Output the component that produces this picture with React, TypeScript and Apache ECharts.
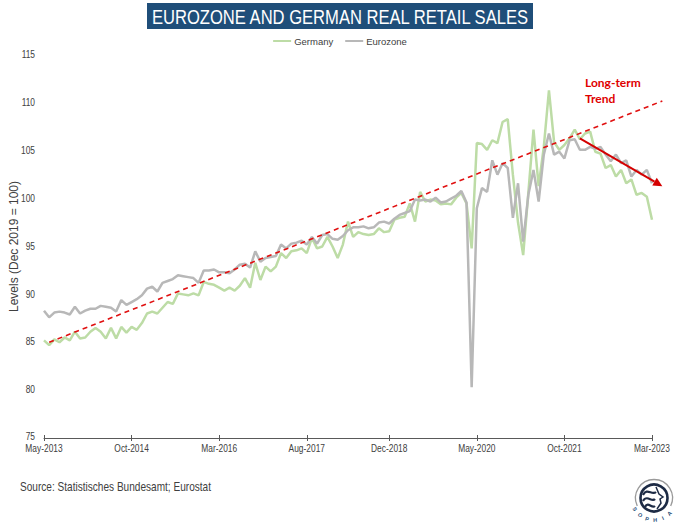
import React, { useEffect, useRef } from 'react';
import * as echarts from 'echarts';

// ---- data ----
const MONTHS = ['Jan', 'Feb', 'Mar', 'Apr', 'May', 'Jun', 'Jul', 'Aug', 'Sep', 'Oct', 'Nov', 'Dec'];
const START_YEAR = 2013;
const START_MONTH = 4; // May
const N_MONTHS = 119; // May-2013 .. Mar-2023

const CATEGORIES: string[] = Array.from({ length: N_MONTHS }, (_, i) => {
  const m = START_MONTH + i;
  return `${MONTHS[m % 12]}-${START_YEAR + Math.floor(m / 12)}`;
});

const TICK_LABELS = ['May-2013', 'Oct-2014', 'Mar-2016', 'Aug-2017', 'Dec-2018', 'May-2020', 'Oct-2021', 'Mar-2023'];
const Y_TICKS = [75, 80, 85, 90, 95, 100, 105, 110, 115];

const GERMANY = [
  85.2, 84.7, 85.3, 85.0, 85.5, 85.2, 86.1, 85.4, 85.5, 86.1,
  86.5, 86.1, 85.4, 86.5, 85.4, 86.6, 86.0, 86.6, 86.3, 87.0,
  88.0, 88.2, 88.0, 88.6, 89.2, 89.0, 90.1, 90.0, 89.9, 90.1,
  89.9, 91.3, 91.1, 91.0, 90.7, 90.4, 90.7, 90.4, 90.9, 91.7,
  90.7, 93.3, 91.5, 92.9, 92.4, 92.9, 94.3, 93.8, 94.5, 94.6,
  94.8, 94.3, 95.9, 94.8, 95.0, 96.0, 95.0, 93.8, 95.2, 97.6,
  96.0, 96.5, 96.3, 96.2, 96.3, 96.9, 96.5, 96.6, 97.8, 98.0,
  98.1, 99.5, 97.6, 100.7, 99.7, 99.9, 99.8, 99.4, 99.5, 99.4,
  100.1, 100.6, 99.5, 94.8, 105.8, 105.7, 105.1, 106.1, 105.8, 108.0,
  108.3, 102.5, 97.5, 94.1, 100.6, 107.2, 101.3, 105.4, 111.3, 105.9,
  105.1, 105.6, 106.3, 107.2, 106.2, 106.8, 107.0, 104.9, 104.7, 103.2,
  103.5, 102.3, 103.0, 101.6, 102.0, 100.4, 100.6, 100.2, 97.8,
];

const EUROZONE = [
  88.3, 87.6, 88.1, 88.2, 88.1, 87.9, 88.7, 88.0, 88.3, 88.5,
  88.5, 88.8, 88.7, 88.6, 88.2, 89.4, 88.9, 89.2, 89.5, 89.9,
  90.6, 90.8, 90.3, 91.2, 91.4, 91.6, 92.0, 91.9, 91.8, 91.7,
  91.2, 92.5, 92.5, 92.6, 92.3, 92.3, 92.2, 92.6, 93.1, 93.2,
  92.8, 94.5, 93.4, 93.8, 93.9, 94.0, 95.2, 94.8, 95.3, 95.4,
  95.6, 95.2, 96.0, 95.3, 96.2, 96.3, 95.8, 95.7, 96.1, 96.7,
  97.0, 97.0, 97.1, 96.9, 97.0, 97.5, 97.6, 97.4, 97.9, 98.3,
  98.5, 98.7, 99.9, 99.8, 99.9, 99.7, 100.1, 99.6, 99.7, 100.0,
  100.3, 100.8, 99.6, 80.3, 99.0, 101.1, 100.7, 104.0, 102.5, 103.7,
  103.2, 98.0, 101.6, 95.5, 100.4, 103.0, 99.7, 104.6, 106.8, 104.6,
  104.9, 104.2, 106.1, 106.2, 105.1, 105.1, 105.4, 105.2, 105.4, 104.6,
  103.9, 104.6, 103.7, 104.0, 102.3, 103.0, 102.5, 103.0, 101.6,
];

// long-term trend line: [category index, level]
const TREND_START = [1.2, 85.0];
const TREND_END = [120.3, 110.2];
// recent trend arrow
const ARROW_START = [103.7, 106.3];
const ARROW_END = [119.5, 101.3];

const TITLE = 'EUROZONE AND GERMAN REAL RETAIL SALES';
const Y_NAME = 'Levels (Dec 2019 = 100)';
const SOURCE = 'Source: Statistisches Bundesamt; Eurostat';

const SANS = "'Liberation Sans', Arial, Helvetica, sans-serif";
const NARROW_SCALE = 0.84;
const TEXT_COLOR = '#404040';
const GREEN = '#bddca6';
const GREY = '#b8b8b8';
const RED = '#e01010';
const NAVY = '#1f4e79';
const AXIS_COLOR = '#595959';

const TICK_IDX = new Set(TICK_LABELS.map((t) => CATEGORIES.indexOf(t)));
const tickFn = (i: number) => TICK_IDX.has(i);

export default function App() {
  const ref = useRef<HTMLDivElement>(null);

  useEffect(() => {
    const chart = echarts.init(ref.current!, null, { renderer: 'svg' });
    chart.setOption({
      animation: false,
      backgroundColor: '#ffffff',
      grid: { left: 42, right: 28, top: 55, bottom: 93, containLabel: false },
      legend: {
        data: ['Germany', 'Eurozone'],
        top: 31,
        left: 'center',
        icon: 'rect',
        itemWidth: 18,
        itemHeight: 2,
        itemGap: 12,
        textStyle: { fontFamily: SANS, fontSize: 9.5, color: TEXT_COLOR, padding: [0, 0, 0, -2] },
      },
      xAxis: [
        {
          type: 'category',
          data: CATEGORIES,
          boundaryGap: false,
          axisLine: { lineStyle: { color: AXIS_COLOR, width: 1 } },
          axisTick: { interval: tickFn, length: 3, lineStyle: { color: AXIS_COLOR } },
          axisLabel: { show: false, interval: tickFn },
          splitLine: { show: false },
        },
        {
          type: 'category',
          data: CATEGORIES,
          boundaryGap: false,
          position: 'bottom',
          axisLine: { show: false },
          axisTick: { interval: tickFn, inside: true, length: 3, lineStyle: { color: AXIS_COLOR } },
          axisLabel: { show: false },
          splitLine: { show: false },
        },
      ],
      yAxis: {
        type: 'value',
        min: 75,
        max: 115,
        interval: 5,
        axisLine: { show: false },
        axisTick: { show: false },
        splitLine: { show: false },
        axisLabel: { show: false },
        name: Y_NAME,
        nameLocation: 'middle',
        nameRotate: 90,
        nameGap: 24,
        nameTextStyle: { fontFamily: SANS, fontSize: 12, color: TEXT_COLOR },
      },
      series: [
        {
          name: 'Germany',
          type: 'line',
          data: GERMANY,
          symbol: 'none',
          lineStyle: { color: GREEN, width: 2.5 },
          itemStyle: { color: GREEN },
          z: 2,
        },
        {
          name: 'Eurozone',
          type: 'line',
          data: EUROZONE,
          symbol: 'none',
          lineStyle: { color: GREY, width: 2.5 },
          itemStyle: { color: GREY },
          z: 3,
        },
      ],
    });

    const px = (p: number[]) => chart.convertToPixel({ gridIndex: 0 }, p) as number[];
    const t0 = px(TREND_START);
    const t1 = px(TREND_END);
    const a0 = px(ARROW_START);
    const a1 = px(ARROW_END);
    const dx = a1[0] - a0[0];
    const dy = a1[1] - a0[1];
    const len = Math.sqrt(dx * dx + dy * dy);
    const ux = dx / len;
    const uy = dy / len;
    const headL = 9;
    const headW = 4.5;
    const bx = a1[0] - ux * headL;
    const by = a1[1] - uy * headL;

    const axisY = px([0, 75])[1];
    const xLabels = TICK_LABELS.map((lab) => {
      const p = px([CATEGORIES.indexOf(lab), 75]);
      return {
        type: 'text',
        x: p[0],
        y: axisY + 6,
        scaleX: NARROW_SCALE,
        style: { text: lab, fill: TEXT_COLOR, font: `10px ${SANS}`, align: 'center', verticalAlign: 'top' },
      };
    });
    const yLabels = Y_TICKS.map((v) => {
      const p = px([0, v]);
      return {
        type: 'text',
        x: 35,
        y: p[1] - (v === 75 ? 1 : 0),
        scaleX: NARROW_SCALE,
        style: { text: String(v), fill: TEXT_COLOR, font: `10px ${SANS}`, align: 'right', verticalAlign: 'middle' },
      };
    });

    // logo
    const lcx = 654;
    const lcy = 498;
    const letters = ['S', 'O', 'P', 'H', 'I', 'A'];
    const letterEls = letters.map((ch, i) => {
      const ang = ((150 - i * 21) * Math.PI) / 180;
      const r = 22;
      return {
        type: 'text',
        x: lcx + r * Math.cos(ang),
        y: lcy + r * Math.sin(ang),
        rotation: -(ang - Math.PI / 2),
        style: {
          text: ch,
          fill: NAVY,
          font: `bold 5.5px ${SANS}`,
          align: 'center',
          verticalAlign: 'middle',
        },
      };
    });

    chart.setOption({
      graphic: [
        {
          type: 'rect',
          shape: { x: 147, y: 3, width: 386, height: 26 },
          style: { fill: NAVY },
        },
        {
          type: 'text',
          x: 340,
          y: 16.5,
          scaleX: 0.79,
          style: {
            text: TITLE,
            fill: '#ffffff',
            font: `21px ${SANS}`,
            align: 'center',
            verticalAlign: 'middle',
          },
        },
        ...xLabels,
        ...yLabels,
        {
          type: 'line',
          shape: { x1: t0[0], y1: t0[1], x2: t1[0], y2: t1[1] },
          style: { stroke: RED, lineWidth: 1.6, lineDash: [5, 4] },
          z: 10,
        },
        {
          type: 'line',
          shape: { x1: a0[0], y1: a0[1], x2: bx, y2: by },
          style: { stroke: '#d40000', lineWidth: 2 },
          z: 10,
        },
        {
          type: 'polygon',
          shape: {
            points: [
              [a1[0], a1[1]],
              [bx - uy * headW, by + ux * headW],
              [bx + uy * headW, by - ux * headW],
            ],
          },
          style: { fill: '#d40000' },
          z: 10,
        },
        {
          type: 'text',
          x: 585,
          y: 90,
          style: {
            text: 'Long-term\nTrend',
            fill: '#e00000',
            font: `bold 12px Lato, ${SANS}`,
            lineHeight: 16,
            align: 'left',
            verticalAlign: 'middle',
          },
        },
        {
          type: 'text',
          x: 20,
          y: 487,
          scaleX: NARROW_SCALE,
          style: {
            text: SOURCE,
            fill: TEXT_COLOR,
            font: `12px ${SANS}`,
            align: 'left',
            verticalAlign: 'middle',
          },
        },
        {
          type: 'arc',
          shape: { cx: lcx, cy: lcy, r: 18.5, startAngle: 2.7, endAngle: 2 * Math.PI + 0.45 },
          style: { stroke: '#9a9a9a', lineWidth: 1.3, fill: 'none' },
        },
        {
          type: 'circle',
          shape: { cx: lcx, cy: lcy, r: 13.5 },
          style: { fill: '#ffffff', stroke: '#1d2b45', lineWidth: 2.6 },
        },
        {
          type: 'bezierCurve',
          shape: { x1: lcx - 11, y1: lcy - 3, x2: lcx + 2, y2: lcy - 6, cpx1: lcx - 7, cpy1: lcy - 11, cpx2: lcx - 2, cpy2: lcy - 2 },
          style: { stroke: '#1d2b45', lineWidth: 2.2, fill: 'none' },
        },
        {
          type: 'bezierCurve',
          shape: { x1: lcx - 11, y1: lcy + 3, x2: lcx + 1, y2: lcy + 1, cpx1: lcx - 7, cpy1: lcy - 4, cpx2: lcx - 2, cpy2: lcy + 5 },
          style: { stroke: '#1d2b45', lineWidth: 2.2, fill: 'none' },
        },
        {
          type: 'bezierCurve',
          shape: { x1: lcx - 9, y1: lcy + 9, x2: lcx + 1, y2: lcy + 8, cpx1: lcx - 6, cpy1: lcy + 3, cpx2: lcx - 2, cpy2: lcy + 11 },
          style: { stroke: '#1d2b45', lineWidth: 2.2, fill: 'none' },
        },
        {
          type: 'polyline',
          shape: {
            points: [
              [lcx + 2, lcy - 11],
              [lcx + 5, lcy - 4],
              [lcx + 9, lcy - 1],
              [lcx + 6, lcy + 1],
              [lcx + 7, lcy + 5],
              [lcx + 3, lcy + 11],
            ],
          },
          style: { stroke: '#1d2b45', lineWidth: 1.5, fill: 'none' },
        },
        ...letterEls,
      ],
    });

    return () => chart.dispose();
  }, []);

  return (
    <div
      ref={ref}
      style={{ position: 'absolute', left: 0, top: 0, width: 680, height: 531 }}
    />
  );
}
